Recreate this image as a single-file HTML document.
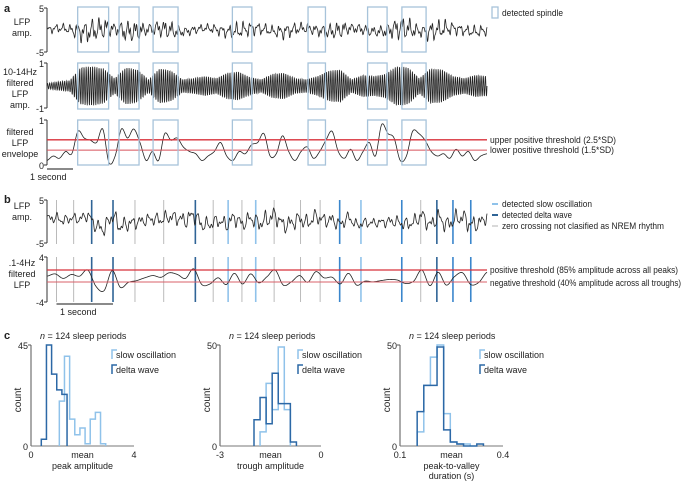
<!DOCTYPE html>
<html><head><meta charset="utf-8">
<style>
html,body{margin:0;padding:0;background:#fff;}
svg{display:block;font-family:"Liberation Sans",Arial,sans-serif;}
text{fill:#222;}
</style></head>
<body>
<svg id="fig" width="682" height="481" viewBox="0 0 682 481"></svg>
<script>
// ---------- DATA ----------
const spindleStart=[1.18,2.77,4.08,7.13,10.04,12.33,13.65];
const spindleEnd=[2.37,3.54,5.04,7.88,10.71,13.08,14.58];
const rawAmpA=[1.0,1.1,1.2,2.6,3.0,2.8,1.4,2.8,2.6,1.3,2.2,2.3,1.2,1.1,1.0,1.3,1.6,2.2,1.8,1.5,1.3,2.0,1.6,1.3,1.4,2.0,2.2,1.2,1.4,1.2,1.7,2.8,2.9,1.3,2.6,2.4,1.6,1.3,1.5,1.4];
const filtAmpA=[0.12,0.2,0.25,0.85,0.9,0.8,0.35,0.85,0.75,0.3,0.8,0.7,0.3,0.35,0.45,0.35,0.6,0.65,0.4,0.3,0.55,0.6,0.35,0.3,0.45,0.7,0.75,0.3,0.5,0.45,0.55,0.9,0.85,0.35,0.8,0.75,0.45,0.35,0.5,0.45];
const envA=[0.1,0.2,0.15,0.3,0.25,0.75,0.6,0.55,0.5,0.8,0.05,0.2,0.8,0.6,0.8,0.5,0.1,0.3,0.1,0.7,0.55,0.6,0.4,0.3,0.25,0.1,0.2,0.3,0.5,0.2,0.1,0.3,0.25,0.45,0.5,0.7,0.2,0.25,0.65,0.3,0.1,0.3,0.4,0.15,0.3,0.55,0.75,0.3,0.15,0.35,0.1,0.3,0.5,0.2,0.9,0.7,0.6,0.1,0.2,0.75,0.7,0.55,0.3,0.2,0.25,0.15,0.35,0.2,0.3,0.1,0.2,0.25];
const upperThr=0.56, lowerThr=0.33;
const eventTimes=[0.165,0.464,0.777,1.148,1.53,2.03,2.58,2.89,3.15,3.39,3.63,3.95,4.41,4.75,5.09,5.46,6.17,6.50,6.78,7.06,7.37];
const eventTypes=['z','z','d','d','z','z','d','z','s','z','s','z','z','z','b','s','b','z','d','b','b'];
const rawAmpB=[1.8,1.5,1.6,2.4,2.6,1.8,2.0,2.2,2.6,2.0,2.4,2.2,2.8,2.6,2.4,2.2,2.0,1.6,1.4,1.8,2.2,2.4,2.6,2.8,2.0];
const deltaB=[0.6,1.0,0.2,0.9,0.6,1.7,-1.2,-2.0,1.6,-1.4,-0.5,-0.2,0.3,0.7,0.4,1.2,0.9,0.2,1.9,-0.9,-0.8,0.3,-0.9,1.1,-0.8,1.0,-0.6,0.5,1.7,-1.0,-0.4,0.7,-0.5,1.4,0.3,0.4,-0.8,1.1,-1.0,-0.3,-0.4,-0.2,0.0,-0.1,-0.7,-0.3,1.7,-1.1,1.3,-1.0,0.5,1.2,-0.9,-0.5,1.3];
const posThr=1.7, negThr=-0.45;
const h1DeltaStart=0.4, h1SlowStart=1.1, h1Width=0.2;
const h1Delta=[3,45,32,25,23];
const h1Slow=[20,40,12,5,8,1,12,15,1];
const h2DeltaStart=-1.99, h2SlowStart=-1.81, h2Width=0.18;
const h2Delta=[13,24,11,36,21,21,2];
const h2Slow=[7,31,18,49,18];
const h3DeltaStart=0.150, h3SlowStart=0.150, h3Width=0.0193;
const h3Delta=[17,30,30,49,8,2,1,0,0,1];
const h3Slow=[7,30,44,50,16,2,1,1];

// ---------- HELPERS ----------
const NS="http://www.w3.org/2000/svg";
const svg=document.getElementById('fig');
function el(tag,attrs,parent){const e=document.createElementNS(NS,tag);for(const k in attrs)e.setAttribute(k,attrs[k]);(parent||svg).appendChild(e);return e;}
function txt(x,y,s,opt){opt=opt||{};const t=el('text',{x:x,y:y,'font-size':opt.size||9,'text-anchor':opt.anchor||'start'});if(opt.bold)t.setAttribute('font-weight','bold');if(opt.len){t.setAttribute('textLength',opt.len);t.setAttribute('lengthAdjust','spacingAndGlyphs');}if(opt.rot)t.setAttribute('transform','rotate(-90 '+x+' '+y+')');t.textContent=s;


return t;}
function line(x1,y1,x2,y2,c,w,name){const l=el('line',{x1:x1,y1:y1,x2:x2,y2:y2,stroke:c,'stroke-width':w||1});


return l;}
function interp(arr,t){const p=t*(arr.length-1);const i=Math.floor(p);const f=p-i;const a=arr[Math.min(i,arr.length-1)],b=arr[Math.min(i+1,arr.length-1)];return a+(b-a)*f;}
function pathFrom(pts){return pts.map((p,i)=>(i?'L':'M')+p[0].toFixed(2)+' '+p[1].toFixed(2)).join('');}
function smooth(arr,N){const out=[];for(let i=0;i<=N;i++){const p=i/N*(arr.length-1);const k=Math.floor(p);const f=p-k;const y0=arr[Math.max(k-1,0)],y1=arr[k],y2=arr[Math.min(k+1,arr.length-1)],y3=arr[Math.min(k+2,arr.length-1)];
const v=0.5*((2*y1)+(-y0+y2)*f+(2*y0-5*y1+4*y2-y3)*f*f+(-y0+3*y1-3*y2+y3)*f*f*f);out.push(v);}return out;}

const X0=47,X1=487;
// ---------- PANEL A ----------
txt(4,12,'a',{bold:true,size:11,name:'panel-a-label'});
const secA=26;
const xA=s=>X0+s*secA;
function yAx(x,yt,yb,lt,lb,name){line(x,yt,x,yb,'#333',1,name+'-axis');line(x-3,yt,x,yt,'#333',1,name+'-tick');line(x-3,yb,x,yb,'#333',1,name+'-tick');
txt(x-3,yt+4,lt,{anchor:'end',name:name+'-top-tick-label'});txt(x-3,yb+4,lb,{anchor:'end',name:name+'-bottom-tick-label'});}
yAx(X0,8,52,'5','-5','a1');yAx(X0,63,108,'1','-1','a2');yAx(X0,120,165,'1','0','a3');
[['LFP',25],['amp.',36]].forEach(a=>txt(22,a[1],a[0],{anchor:'middle',name:'a1-y-title'}));
[['10-14Hz',75],['filtered',86],['LFP',97],['amp.',108]].forEach(a=>txt(20,a[1],a[0],{anchor:'middle',name:'a2-y-title'}));
[['filtered',135],['LFP',146],['envelope',157]].forEach(a=>txt(20,a[1],a[0],{anchor:'middle',name:'a3-y-title'}));
(function(){const N=1400,pts=[];for(let i=0;i<=N;i++){const t=i/N;const a=interp(rawAmpA,t);
const v=a*(0.55*Math.sin(2*Math.PI*61*t)+0.3*Math.sin(2*Math.PI*137*t+1.3)+0.2*Math.sin(2*Math.PI*211*t+2.1))+0.4*Math.sin(2*Math.PI*9*t);
pts.push([X0+t*(X1-X0),30-v*4.4]);}
const p=el('path',{d:pathFrom(pts),fill:'none',stroke:'#222','stroke-width':0.8});

})();
(function(){const N=2000,pts=[];for(let i=0;i<=N;i++){const t=i/N;const a=interp(filtAmpA,t);
const v=a*Math.sin(2*Math.PI*205*t);pts.push([X0+t*(X1-X0),86-v*22]);}
const p=el('path',{d:pathFrom(pts),fill:'none',stroke:'#222','stroke-width':0.8});

})();
(function(){const s=smooth(envA,600);const pts=s.map((v,i)=>[X0+i/600*(X1-X0),165-Math.max(0.02,v)*45]);
const p=el('path',{d:pathFrom(pts),fill:'none',stroke:'#222','stroke-width':0.8});

})();
line(X0,165-upperThr*45,X1,165-upperThr*45,'#d8303a',1.3,'upper-threshold-line');
line(X0,165-lowerThr*45,X1,165-lowerThr*45,'#d8505a',1,'lower-threshold-line');
txt(490,143,'upper positive threshold (2.5*SD)',{name:'upper-threshold-label',len:126});
txt(490,153,'lower positive threshold (1.5*SD)',{name:'lower-threshold-label',len:124});
spindleStart.forEach((s,i)=>{[[7,52],[63,109],[120,165]].forEach(r=>{const b=el('rect',{x:xA(s),y:r[0],width:(spindleEnd[i]-s)*secA,height:r[1]-r[0],fill:'none',stroke:'#a7c3da','stroke-width':1.3});

});});
(function(){const b=el('rect',{x:492,y:7,width:6,height:11,fill:'none',stroke:'#a7c3da','stroke-width':1.3});

})();
txt(502,16,'detected spindle',{name:'legend-spindle-label',len:61});
line(X0,169,X0+secA,169,'#444',1.3,'scale-bar-a');
txt(30,180,'1 second',{name:'scale-bar-a-label'});

// ---------- PANEL B ----------
txt(4,203,'b',{bold:true,size:11,name:'panel-b-label'});
const secB=57.5;const xB=s=>X0+s*secB;
yAx(X0,200,243,'5','-5','b1');yAx(X0,257,302,'4','-4','b2');
[['LFP',209],['amp.',220]].forEach(a=>txt(22,a[1],a[0],{anchor:'middle',name:'b1-y-title'}));
[['.1-4Hz',266],['filtered',277],['LFP',288]].forEach(a=>txt(22,a[1],a[0],{anchor:'middle',name:'b2-y-title'}));
const evColor={z:'#b3b3b3',s:'#8fc2ea',b:'#3a86cc',d:'#2f6496'};
eventTimes.forEach((t,i)=>{const c=evColor[eventTypes[i]];const w=eventTypes[i]=='z'?0.9:1.6;
line(xB(t),200,xB(t),244,c,w,'event-line-'+eventTypes[i]);line(xB(t),257,xB(t),302,c,w,'event-line-'+eventTypes[i]);});
(function(){const N=1200,pts=[];for(let i=0;i<=N;i++){const t=i/N;const a=interp(rawAmpB,t);
const dv=interp(deltaB,t);
const v=a*(0.45*Math.sin(2*Math.PI*53*t)+0.3*Math.sin(2*Math.PI*97*t+0.7)+0.15*Math.sin(2*Math.PI*171*t+2))+dv*0.9;
pts.push([X0+t*(X1-X0),221.5-v*4.3]);}
const p=el('path',{d:pathFrom(pts),fill:'none',stroke:'#222','stroke-width':0.8});

})();
(function(){const s=smooth(deltaB,700);const pts=s.map((v,i)=>[X0+i/700*(X1-X0),279.5-v*5.6]);
const p=el('path',{d:pathFrom(pts),fill:'none',stroke:'#222','stroke-width':0.8});

})();
line(X0,279.5-posThr*5.6,X1,279.5-posThr*5.6,'#d8303a',1.3,'positive-threshold-line');
line(X0,279.5-negThr*5.6,X1,279.5-negThr*5.6,'#d8606a',1,'negative-threshold-line');
txt(490,273,'positive threshold (85% amplitude across all peaks)',{name:'positive-threshold-label',len:188});
txt(490,286,'negative threshold (40% amplitude across all troughs)',{name:'negative-threshold-label',len:191});
line(492,204,498,204,'#8fc2ea',2,'legend-slow-swatch');txt(502,207,'detected slow oscillation',{name:'legend-slow-label',len:90});
line(492,215,498,215,'#2f6496',2,'legend-delta-swatch');txt(502,218,'detected delta wave',{name:'legend-delta-label',len:70});
line(492,226,498,226,'#b3b3b3',1,'legend-zero-swatch');txt(502,229,'zero crossing not clasified as NREM rhythm',{name:'legend-zero-label',len:162});
line(xB(0.165),304,xB(1.148),304,'#444',1.3,'scale-bar-b');
txt(60,315,'1 second',{name:'scale-bar-b-label'});

// ---------- PANEL C ----------
txt(4,339,'c',{bold:true,size:11,name:'panel-c-label'});
const Y0=446,Y1=345;
function hist(ax){const sx=v=>ax.x0+(v-ax.min)/(ax.max-ax.min)*(ax.x1-ax.x0);const sy=c=>Y0-c/ax.ymax*(Y0-Y1);
const t=txt(ax.x0+9,339,'',{name:'hist-title'});
const ti=document.createElementNS(NS,'tspan');ti.setAttribute('font-style','italic');ti.textContent='n';t.appendChild(ti);
t.appendChild(document.createTextNode(' = 124 sleep periods'));
line(ax.x0,Y1,ax.x0,Y0,'#555',1,'hist-y-axis');line(ax.x0,Y0,ax.x1,Y0,'#777',1,'hist-x-axis');
line(ax.x0-3,Y1,ax.x0,Y1,'#555',1,'hist-y-tick');
txt(ax.x0-3,Y1+4,String(ax.ymax),{anchor:'end',name:'hist-ymax-label'});txt(ax.x0-3,Y0+4,'0',{anchor:'end',name:'hist-y0-label'});
txt(ax.x0,Y0+12,ax.minL,{anchor:'middle',name:'hist-xmin-label'});txt(ax.x1,Y0+12,ax.maxL,{anchor:'middle',name:'hist-xmax-label'});
txt((ax.x0+ax.x1)/2,Y0+12,'mean',{anchor:'middle',name:'hist-mean-label'});
ax.xt.forEach((s,i)=>txt((ax.x0+ax.x1)/2,Y0+23+i*10,s,{anchor:'middle',name:'hist-x-title'}));
txt(ax.x0-10,400,'count',{anchor:'middle',rot:true,size:10,name:'hist-y-title'});
function steps(start,w,counts,color,name){let pts=[[sx(start),Y0]];counts.forEach((c,i)=>{pts.push([sx(start+i*w),sy(c)]);pts.push([sx(start+(i+1)*w),sy(c)]);});pts.push([sx(start+counts.length*w),Y0]);
const p=el('path',{d:pathFrom(pts),fill:'none',stroke:color,'stroke-width':1.5});

}
steps(ax.sStart,ax.w,ax.slow,'#8fc2ea','slow-oscillation-hist');
steps(ax.dStart,ax.w,ax.delta,'#2c68a6','delta-wave-hist');
const lx=ax.lx;
el('path',{d:`M${lx+5} 350 L${lx} 350 L${lx} 359`,fill:'none',stroke:'#8fc2ea','stroke-width':1.5,});
txt(lx+4,358,'slow oscillation',{name:'legend-slow-label'});
el('path',{d:`M${lx+5} 365 L${lx} 365 L${lx} 374`,fill:'none',stroke:'#2c68a6','stroke-width':1.5,});
txt(lx+4,373,'delta wave',{name:'legend-delta-label'});}
hist({x0:31,x1:134,min:0,max:4,minL:'0',maxL:'4',ymax:45,xt:['peak amplitude'],lx:112,sStart:h1SlowStart,dStart:h1DeltaStart,w:h1Width,slow:h1Slow,delta:h1Delta});
hist({x0:220,x1:321,min:-3,max:0,minL:'-3',maxL:'0',ymax:50,xt:['trough amplitude'],lx:298,sStart:h2SlowStart,dStart:h2DeltaStart,w:h2Width,slow:h2Slow,delta:h2Delta});
hist({x0:400,x1:503,min:0.1,max:0.4,minL:'0.1',maxL:'0.4',ymax:50,xt:['peak-to-valley','duration (s)'],lx:480,sStart:h3SlowStart,dStart:h3DeltaStart,w:h3Width,slow:h3Slow,delta:h3Delta});
</script>
</body></html>
